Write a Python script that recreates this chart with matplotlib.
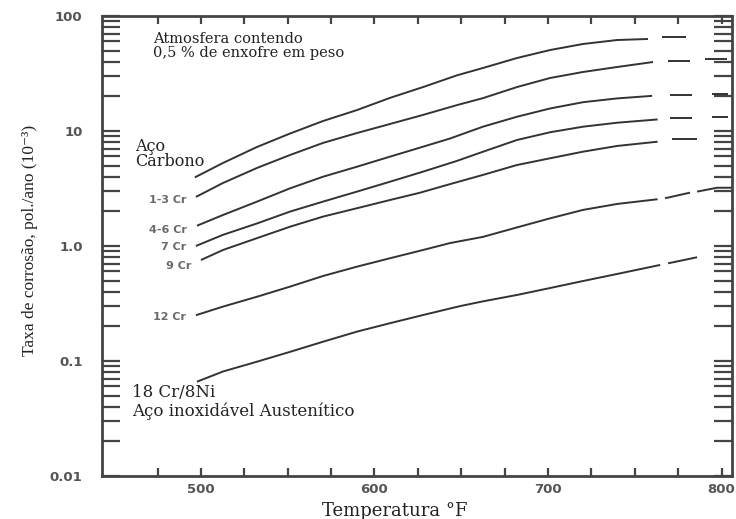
import numpy as np
import matplotlib.pyplot as plt
from matplotlib.ticker import LogLocator, NullFormatter, FixedLocator

# Dados (temperatura em °F, taxa em 10^-3 pol/ano)
temp_carbono = [496.5, 512.7, 532.3, 551.3, 570.3, 589.9, 608.9, 628, 647.6, 662.5, 682.1, 701.2, 720.2, 739.8, 757.6]
taxa_carbono = [3.95, 5.27, 7.26, 9.5, 12.2, 15.2, 19.4, 24.1, 30.5, 35.3, 43.1, 50.6, 57.1, 61.8, 63.1]
ext_temp_carbono = [[765.7, 779.5]]
ext_taxa_carbono = [[65.6, 65.6]]

temp_13cr = [497.1, 512.7, 532.3, 551.3, 570.3, 589.9, 608.9, 628, 647.6, 662.5, 682.1, 701.2, 720.2, 739.8, 760.5]
taxa_13cr = [2.67, 3.53, 4.77, 6.18, 7.87, 9.6, 11.5, 13.8, 16.8, 19.3, 24.1, 28.9, 32.6, 36.0, 39.8]
ext_temp_13cr = [[769.2, 781.8], [790.5, 803]]
ext_taxa_13cr = [[40.5, 40.5], [42.0, 42.0]]

temp_46cr = [497.7, 512.7, 532.3, 551.3, 570.3, 589.9, 608.9, 628, 643.5, 662.5, 682.1, 701.2, 720.2, 739.8, 760]
taxa_46cr = [1.5, 1.86, 2.43, 3.17, 4.0, 4.89, 5.98, 7.3, 8.6, 10.9, 13.3, 15.7, 17.8, 19.2, 20.2]
ext_temp_46cr = [[770.3, 783], [794.5, 803.7]]
ext_taxa_46cr = [[20.4, 20.4], [21.1, 21.1]]

temp_7cr = [497.1, 512.7, 532.3, 551.3, 570.3, 589.9, 608.9, 628, 647.6, 662.5, 682.1, 701.2, 720.2, 739.8, 763.1]
taxa_7cr = [1.0, 1.25, 1.57, 1.99, 2.43, 2.97, 3.62, 4.43, 5.5, 6.6, 8.35, 9.75, 10.9, 11.8, 12.6]
ext_temp_7cr = [[770.3, 783], [794.5, 803.7]]
ext_taxa_7cr = [[13.0, 13.0], [13.3, 13.3]]

temp_9cr = [500, 512.7, 532.3, 551.3, 570.3, 589.9, 608.9, 626, 643.5, 662.5, 682.1, 701.2, 720.2, 739.8, 763.1]
taxa_9cr = [0.755, 0.923, 1.17, 1.47, 1.80, 2.13, 2.51, 2.9, 3.45, 4.15, 5.06, 5.79, 6.61, 7.41, 8.07]
ext_temp_9cr = [[771.4, 785.9]]
ext_taxa_9cr = [[8.5, 8.5]]

temp_12cr = [497.1, 512.7, 532.3, 551.3, 570.3, 589.9, 608.9, 628, 643.5, 662.5, 682.1, 701.2, 720.2, 739.8, 763.1]
taxa_12cr = [0.25, 0.297, 0.362, 0.443, 0.548, 0.661, 0.782, 0.923, 1.06, 1.2, 1.45, 1.74, 2.06, 2.32, 2.55]
ext_temp_12cr = [[767.4, 781.8], [785.9, 797.4, 806]]
ext_taxa_12cr = [[2.6, 2.91], [2.97, 3.21, 3.21]]

temp_18cr = [497.7, 512.7, 532.3, 551.3, 570.3, 589.9, 608.9, 628, 649.3, 662.5, 682.1, 701.2, 720.2, 739.8, 764.6]
taxa_18cr = [0.066, 0.081, 0.0986, 0.120, 0.147, 0.180, 0.213, 0.251, 0.30, 0.33, 0.375, 0.431, 0.496, 0.571, 0.684]
ext_temp_18cr = [[769.2, 785.9]]
ext_taxa_18cr = [[0.707, 0.798]]

rotulos = [None, '1-3 Cr', '4-6 Cr', '7 Cr', '9 Cr', '12 Cr', None]
rotulo_dy = [0, -2, -3, -1, -4, -1, 0]

curvas = [
    (temp_carbono, taxa_carbono, ext_temp_carbono, ext_taxa_carbono),
    (temp_13cr, taxa_13cr, ext_temp_13cr, ext_taxa_13cr),
    (temp_46cr, taxa_46cr, ext_temp_46cr, ext_taxa_46cr),
    (temp_7cr, taxa_7cr, ext_temp_7cr, ext_taxa_7cr),
    (temp_9cr, taxa_9cr, ext_temp_9cr, ext_taxa_9cr),
    (temp_12cr, taxa_12cr, ext_temp_12cr, ext_taxa_12cr),
    (temp_18cr, taxa_18cr, ext_temp_18cr, ext_taxa_18cr),
]

cor_linha = '#333333'
cor_eixo = '#444444'
cor_texto_cinza = '#6a6a6a'

fig = plt.figure(figsize=(7.36, 5.19), dpi=100)
ax = fig.add_axes([0.1386, 0.0829, 0.8560, 0.8863])

for (t, v, et, ev), rot, dy in zip(curvas, rotulos, rotulo_dy):
    ax.plot(t, v, color=cor_linha, lw=1.4, solid_capstyle='butt')
    for seg_t, seg_v in zip(et, ev):
        ax.plot(seg_t, seg_v, color=cor_linha, lw=1.4, solid_capstyle='butt')
    if rot:
        ax.annotate(rot, (t[0], v[0]), xytext=(-7, dy), textcoords='offset points',
                    ha='right', va='center', fontsize=8, fontweight='bold',
                    color=cor_texto_cinza)

ax.set_yscale('log')
ax.set_ylim(0.01, 100)
ax.set_xlim(443, 806)

# Eixo y
ax.yaxis.set_major_locator(FixedLocator([0.01, 0.1, 1, 10, 100]))
ax.set_yticklabels(['0.01', '0.1', '1.0', '10', '100'])
ax.yaxis.set_minor_locator(LogLocator(base=10, subs=np.arange(2, 10)))
ax.yaxis.set_minor_formatter(NullFormatter())

# Eixo x
ax.set_xticks([500, 600, 700, 800])
ax.set_xticklabels(['500', '600', '700', '800'])
ax.xaxis.set_minor_locator(FixedLocator([475, 525, 550, 575, 625, 650, 675, 725, 750, 775]))
ax.xaxis.get_major_ticks()[-1].tick1line.set_visible(False)
ax.xaxis.get_major_ticks()[-1].tick2line.set_visible(False)

ax.tick_params(axis='y', which='both', direction='in', left=True, right=True,
               length=13, width=1.6, color=cor_eixo, pad=14)
ax.tick_params(axis='x', which='both', direction='in', top=True, bottom=True,
               length=6, width=1.6, color=cor_eixo, pad=5)
for lbl in ax.get_xticklabels() + ax.get_yticklabels():
    lbl.set_fontsize(9.5)
    lbl.set_fontweight('bold')
    lbl.set_color('#555555')

for s in ax.spines.values():
    s.set_color(cor_eixo)
    s.set_linewidth(2)

# Textos
serif = ['DejaVu Serif']
ax.text(0.081, 0.935, 'Atmosfera contendo\n0,5 % de enxofre em peso', transform=ax.transAxes,
        ha='left', va='center', fontsize=10.5, family=serif, color='#222222', linespacing=1.0)
ax.text(0.052, 0.70, 'Aço\nCarbono', transform=ax.transAxes,
        ha='left', va='center', fontsize=11.5, family=serif, color='#222222', linespacing=0.9)
ax.text(0.048, 0.161, '18 Cr/8Ni\nAço inoxidável Austenítico', transform=ax.transAxes,
        ha='left', va='center', fontsize=12, family=serif, color='#222222', linespacing=1.05)

fig.text(0.537, 0.006, 'Temperatura °F', ha='center', va='baseline', fontsize=13,
         family=serif, color='#222222')
fig.text(0.041, 0.536, 'Taxa de corrosão, pol./ano (10⁻³)', rotation=90, ha='center',
         va='center', fontsize=12.5, family=['Liberation Serif', 'DejaVu Serif'], color='#222222')

plt.savefig('out.png', dpi=100)
